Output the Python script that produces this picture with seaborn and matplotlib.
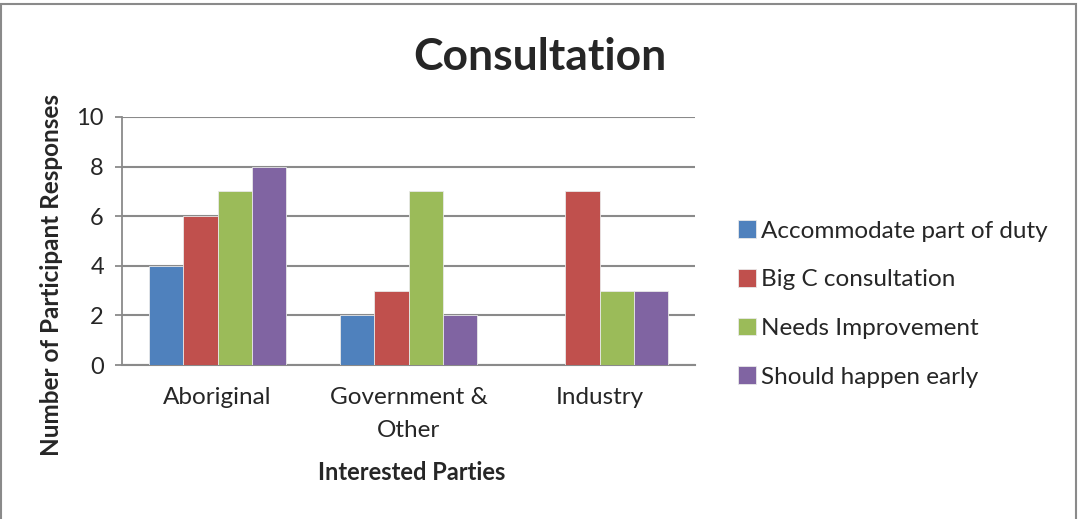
import matplotlib
matplotlib.use("Agg")
import matplotlib.pyplot as plt
import seaborn as sns
import pandas as pd
from matplotlib.patches import Rectangle

categories = ["Aboriginal", "Government &\nOther", "Industry"]
series = ["Accommodate part of duty", "Big C consultation", "Needs Improvement", "Should happen early"]
accommodate = [4, 2, 0]
big_c = [6, 3, 7]
needs_improvement = [7, 7, 3]
happen_early = [8, 2, 3]
colors = ["#4F81BD", "#C0504D", "#9BBB59", "#8064A2"]
yticks = [0, 2, 4, 6, 8, 10]

rows = []
for s, vals in zip(series, [accommodate, big_c, needs_improvement, happen_early]):
    for c, v in zip(categories, vals):
        rows.append({"Party": c, "Series": s, "Value": v})
df = pd.DataFrame(rows)

sns.set_style("white")
plt.rcParams["font.family"] = ["Lato", "DejaVu Sans"]

fig = plt.figure(figsize=(10.78, 5.19), dpi=100)
W, H = 1078, 519
ax = fig.add_axes([122 / W, 1 - 365 / H, (695 - 122) / W, (365 - 117) / H])

sns.barplot(data=df, x="Party", y="Value", hue="Series", hue_order=series,
            order=categories, palette=colors, width=0.72, gap=0,
            saturation=1, ax=ax, legend=True, zorder=3,
            edgecolor="#e8e8e8", linewidth=0.6)

ax.set_ylim(0, 10)
ax.set_xlim(-0.5, 2.5)
ax.set_yticks(yticks)
ax.set_yticklabels([str(t) for t in yticks], fontsize=17)
ax.yaxis.grid(True, color="#8a8a8a", linewidth=1.5, zorder=0)
ax.set_axisbelow(True)
for sp in ["top", "right"]:
    ax.spines[sp].set_visible(False)
ax.spines["left"].set_color("#8a8a8a")
ax.spines["left"].set_linewidth(1.3)
ax.spines["bottom"].set_color("#8a8a8a")
ax.spines["bottom"].set_linewidth(1.5)
ax.tick_params(axis="y", length=5, width=1.3, color="#8a8a8a", pad=8, left=True)
ax.tick_params(axis="x", length=0, pad=16, labelsize=17.5)
for lbl in ax.get_xticklabels():
    lbl.set_linespacing(1.7)

ax.set_xlabel("Interested Parties", fontsize=17, fontweight="bold")
ax.xaxis.set_label_coords(0.505, -(461 - 365) / (365 - 117))
ax.set_ylabel("Number of Participant Responses", fontsize=17.5, fontweight="bold")
ax.yaxis.set_label_coords(-(122 - 63) / (695 - 122), (365 - 275) / (365 - 117))

fig.text(540 / W, 1 - 57 / H, "Consultation", ha="center", va="center",
         fontsize=32, fontweight="bold")

handles, labels = ax.get_legend_handles_labels()
ax.legend(handles, labels, loc="center left", bbox_to_anchor=(728 / W, 1 - 304 / H),
          bbox_transform=fig.transFigure, frameon=False, fontsize=17.5,
          handlelength=0.75, handleheight=0.75, handletextpad=0.2, labelspacing=1.12,
          borderaxespad=0)

fig.patches.append(Rectangle((1 / W, -0.02), (1076 - 1) / W, 1 - 4 / H + 0.02,
                             transform=fig.transFigure, fill=False,
                             edgecolor="#8a8a8a", linewidth=1.5))

fig.savefig("out.png", dpi=100)
